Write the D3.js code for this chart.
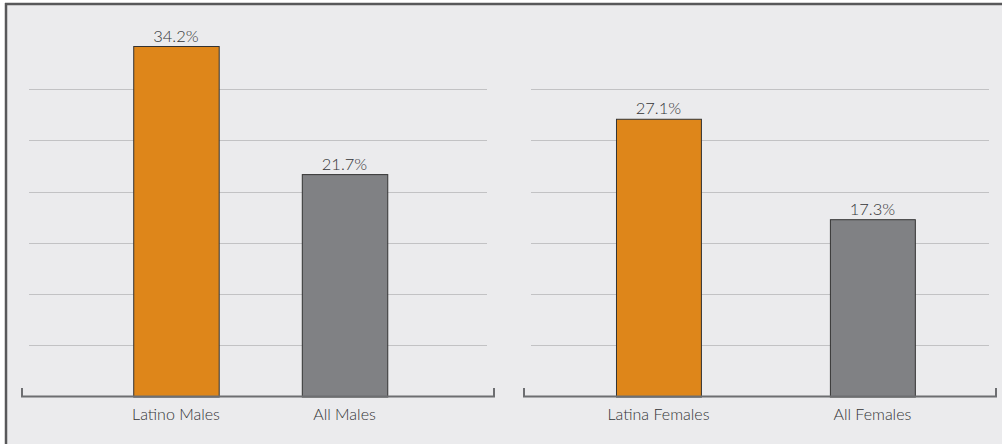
<!DOCTYPE html>
<html><head><meta charset="utf-8">
<script src="https://cdn.jsdelivr.net/npm/d3@7"></script>
<style>
html,body{margin:0;padding:0;background:#fff;}
svg{display:block;}
</style></head><body>
<svg id="chart" width="1002" height="444"></svg>
<script>
// ---- data ----
const maleCategories = ["Latino Males", "All Males"];
const maleValues = [34.2, 21.7];
const femaleCategories = ["Latina Females", "All Females"];
const femaleValues = [27.1, 17.3];
const gridTicks = [5, 10, 15, 20, 25, 30];
const barColors = ["#de861a", "#808184"];

const svg = d3.select("#chart");
const W = 1002, H = 444;

// frame
svg.append("rect").attr("x", 5).attr("y", 3).attr("width", W - 5).attr("height", H - 3).attr("fill", "#ebebed");
svg.append("line").attr("x1", 6).attr("x2", 6).attr("y1", 3).attr("y2", H).attr("stroke", "#58585a").attr("stroke-width", 2.5);
svg.append("line").attr("x1", 5).attr("x2", W).attr("y1", 4).attr("y2", 4).attr("stroke", "#58585a").attr("stroke-width", 2.5);

const baseY = 396.5;
const y = d3.scaleLinear().domain([0, 34.2]).range([baseY, 46]);

function panel(cats, vals, gx0, gx1, padIn, padOut, align) {
  const g = svg.append("g");
  const x = d3.scaleBand().domain(cats).range([gx0, gx1]).paddingInner(padIn).paddingOuter(padOut).align(align);
  // gridlines
  g.selectAll("line.grid").data(gridTicks).join("line")
    .attr("x1", gx0).attr("x2", gx1)
    .attr("y1", d => Math.round(y(d)) + 0.5).attr("y2", d => Math.round(y(d)) + 0.5)
    .attr("stroke", "#c2c2c4").attr("stroke-width", 1.2);
  // bars
  g.selectAll("rect.bar").data(vals).join("rect")
    .attr("x", (d, i) => x(cats[i]) + 0.5)
    .attr("y", d => y(d) + 0.5)
    .attr("width", x.bandwidth())
    .attr("height", d => baseY - y(d))
    .attr("fill", (d, i) => barColors[i])
    .attr("stroke", "#333")
    .attr("stroke-width", 1);
  // value labels
  g.selectAll("text.val").data(vals).join("text")
    .attr("x", (d, i) => x(cats[i]) + x.bandwidth() / 2)
    .attr("y", d => y(d) - 4.5)
    .attr("text-anchor", "middle")
    .attr("font-family", "Lato, 'Open Sans', sans-serif")
    .attr("font-weight", 300)
    .attr("font-size", 16.5)
    .attr("fill", "#333436")
    .text(d => d.toFixed(1) + "%");
  // baseline axis
  const axis = d3.axisBottom(x).tickSize(0).tickPadding(12);
  const ag = g.append("g").attr("transform", `translate(0,${baseY})`).call(axis);
  ag.select(".domain").remove();
  ag.selectAll("text")
    .attr("font-family", "Lato, 'Open Sans', sans-serif")
    .attr("font-weight", 300)
    .attr("font-size", 16).attr("fill", "#333436");
  const bx0 = gx0 - 7, bx1 = gx1 + 7;
  g.append("path")
    .attr("d", `M${bx0},${baseY - 8.5}V${baseY}H${bx1}V${baseY - 8.5}`)
    .attr("fill", "none").attr("stroke", "#6d6e71").attr("stroke-width", 2);
}

panel(maleCategories, maleValues, 29, 487, 0.493, 0.605, 0.511);
panel(femaleCategories, femaleValues, 531, 989, 0.603, 0.372, 0.534);
</script>
</body></html>
